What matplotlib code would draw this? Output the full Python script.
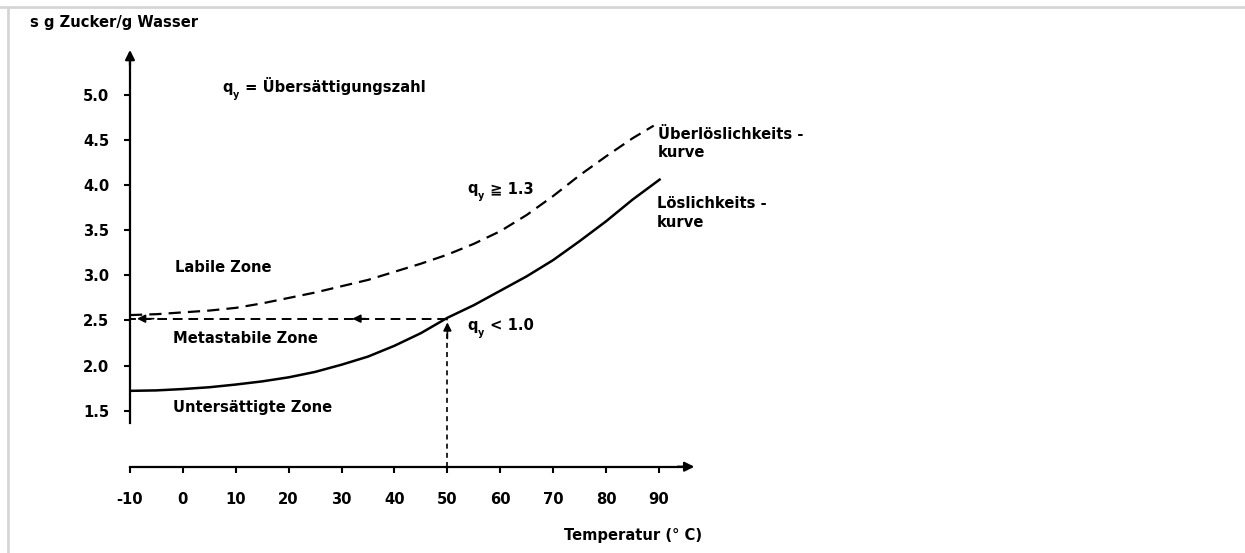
import matplotlib
matplotlib.use('Agg')
import matplotlib.pyplot as plt
from matplotlib.lines import Line2D

plt.rcParams['font.family'] = ['DejaVu Sans']
plt.rcParams['font.weight'] = 'bold'

# ---- data ----
temp_sol = [-10, -5, 0, 5, 10, 15, 20, 25, 30, 35, 40, 45, 50, 55, 60, 65, 70, 75, 80, 85, 90.3]
conc_sol = [1.72, 1.725, 1.74, 1.76, 1.79, 1.825, 1.87, 1.93, 2.01, 2.10, 2.22, 2.36, 2.53,
            2.67, 2.83, 2.99, 3.17, 3.38, 3.60, 3.84, 4.07]
temp_sup = [-10, -5, 0, 5, 10, 15, 20, 25, 30, 35, 40, 45, 50, 55, 60, 65, 70, 75, 80, 85, 89]
conc_sup = [2.56, 2.57, 2.59, 2.61, 2.64, 2.69, 2.75, 2.81, 2.88, 2.95, 3.04, 3.13, 3.23,
            3.35, 3.49, 3.67, 3.88, 4.11, 4.32, 4.52, 4.66]
x_ticks = [-10, 0, 10, 20, 30, 40, 50, 60, 70, 80, 90]
y_ticks = [1.5, 2.0, 2.5, 3.0, 3.5, 4.0, 4.5, 5.0]
y_ticklabels = ['1.5', '2.0', '2.5', '3.0', '3.5', '4.0', '4.5', '5.0']
mark_temp = 50
mark_conc = 2.52

FS = 10.6
fig = plt.figure(figsize=(12.45, 5.53), dpi=100)
ax = fig.add_axes([0, 0, 1, 1])
ax.set_xlim(-34.57, 200.77)
ax.set_ylim(-0.0776, 6.053)
ax.patch.set_alpha(0)

# axes (spines)
x_axis_y = 0.879
ax.spines['top'].set_visible(False)
ax.spines['right'].set_visible(False)
ax.spines['left'].set_position(('data', -10))
ax.spines['left'].set_bounds(1.367, 5.45)
ax.spines['bottom'].set_position(('data', x_axis_y))
ax.spines['bottom'].set_bounds(-10, 96)
for s in ('left', 'bottom'):
    ax.spines[s].set_linewidth(1.6)

ax.set_xticks(x_ticks)
ax.set_xticklabels([str(v) for v in x_ticks])
ax.set_yticks(y_ticks)
ax.set_yticklabels(y_ticklabels)
ax.tick_params(axis='x', direction='out', length=4, width=1.5, pad=14, labelsize=FS)
ax.tick_params(axis='y', direction='out', length=4, width=1.5, pad=11, labelsize=FS)

# axis arrowheads
ax.annotate('', xy=(-10, 5.53), xytext=(-10, 5.3),
            arrowprops=dict(arrowstyle='-|>', color='black', lw=1.6, mutation_scale=14))
ax.annotate('', xy=(97.2, x_axis_y), xytext=(93, x_axis_y),
            arrowprops=dict(arrowstyle='-|>', color='black', lw=1.6, mutation_scale=14))

# curves
ax.plot(temp_sol, conc_sol, color='black', lw=1.8, solid_capstyle='butt')
ax.plot(temp_sup, conc_sup, color='black', lw=1.6, linestyle=(0, (5.5, 3.2)))

# helper dashed lines with arrows
ax.plot([mark_temp, -10], [mark_conc, mark_conc], color='black', lw=1.4, linestyle=(0, (5.0, 3.0)))
ax.plot([mark_temp, mark_temp], [x_axis_y, mark_conc], color='black', lw=1.2, linestyle=(0, (3.0, 2.5)))
ax.annotate('', xy=(-9.2, mark_conc), xytext=(-5, mark_conc),
            arrowprops=dict(arrowstyle='-|>', color='black', lw=1.2, mutation_scale=12))
ax.annotate('', xy=(31.5, mark_conc), xytext=(35, mark_conc),
            arrowprops=dict(arrowstyle='-|>', color='black', lw=1.2, mutation_scale=12))
ax.annotate('', xy=(mark_temp, mark_conc - 0.01), xytext=(mark_temp, mark_conc - 0.25),
            arrowprops=dict(arrowstyle='-|>', color='black', lw=1.2, mutation_scale=12))


def qy_text(x, y, rest):
    t1 = ax.text(x, y, 'q', fontsize=FS, va='baseline', ha='left')
    t2 = ax.annotate('y', xy=(1, y), xycoords=(t1, 'data'), xytext=(0.3, -4),
                     textcoords='offset points', fontsize=FS * 0.65, va='baseline', ha='left')
    ax.annotate(rest, xy=(1, y), xycoords=(t2, 'data'), xytext=(0.5, 0),
                textcoords='offset points', fontsize=FS, va='baseline', ha='left')


qy_text(7.4, 5.033, ' = Übersättigungszahl')
qy_text(53.7, 3.913, ' ≧ 1.3')
qy_text(53.7, 2.395, ' < 1.0')

ax.text(-1.5, 3.038, 'Labile Zone', fontsize=FS, va='baseline', ha='left')
ax.text(-1.9, 2.25, 'Metastabile Zone', fontsize=FS, va='baseline', ha='left')
ax.text(-1.9, 1.486, 'Untersättigte Zone', fontsize=FS, va='baseline', ha='left')
ax.text(89.8, 4.512, 'Überlöslichkeits -', fontsize=FS, va='baseline', ha='left')
ax.text(89.8, 4.312, 'kurve', fontsize=FS, va='baseline', ha='left')
ax.text(89.6, 3.747, 'Löslichkeits -', fontsize=FS, va='baseline', ha='left')
ax.text(89.6, 3.537, 'kurve', fontsize=FS, va='baseline', ha='left')
ax.text(98.1, 0.067, 'Temperatur (° C)', fontsize=FS, va='baseline', ha='right')

fig.text(30 / 1245, 1 - 27 / 553, 's g Zucker/g Wasser', fontsize=FS, va='baseline', ha='left')

# light grey frame lines (top and left)
fig.add_artist(Line2D([0, 1], [1 - 6.5 / 553, 1 - 6.5 / 553], transform=fig.transFigure,
                      color='#d6d6d6', lw=2))
fig.add_artist(Line2D([8 / 1245, 8 / 1245], [0, 1 - 6.5 / 553], transform=fig.transFigure,
                      color='#d6d6d6', lw=2))

fig.savefig('out.png', dpi=100)
